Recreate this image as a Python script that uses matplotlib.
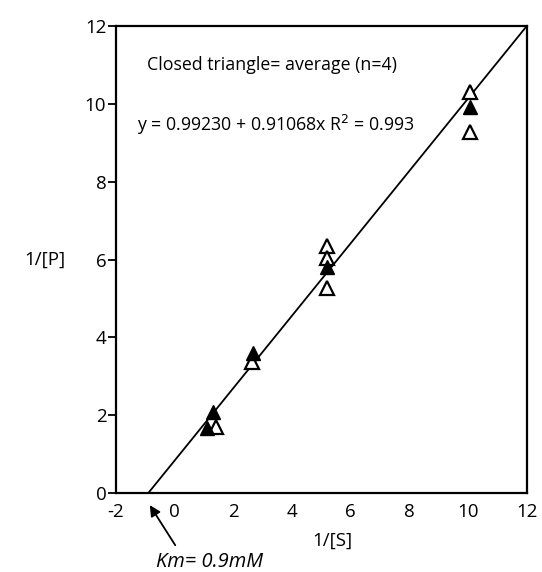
import matplotlib
matplotlib.use('Agg')
import matplotlib.pyplot as plt

plt.rcParams['font.family'] = ['Open Sans', 'DejaVu Sans']
plt.rcParams['axes.unicode_minus'] = False

# datos
x_ticks = [-2, 0, 2, 4, 6, 8, 10, 12]
y_ticks = [0, 2, 4, 6, 8, 10, 12]

open_x = [1.4, 2.62, 5.2, 5.2, 5.2, 10.05, 10.05]
open_y = [1.71, 3.37, 6.35, 6.05, 5.27, 10.31, 9.27]

closed_x = [1.1, 1.3, 2.68, 5.2, 10.05]
closed_y = [1.68, 2.07, 3.61, 5.81, 9.93]

fit_x = [-0.9, 12.0]
fit_y = [0.0, 12.0]

fig = plt.figure(figsize=(5.42, 5.72), dpi=100)
ax = fig.add_axes([0.214, 0.138, 0.758, 0.8166])

ax.plot(fit_x, fit_y, color='black', lw=1.3, zorder=2)
ax.plot(open_x, open_y, linestyle='none', marker='^', markersize=10.5,
        markerfacecolor='white', markeredgecolor='black', markeredgewidth=1.6, zorder=3)
ax.plot(closed_x, closed_y, linestyle='none', marker='^', markersize=10.5,
        markerfacecolor='black', markeredgecolor='black', zorder=4)

ax.set_xlim(-2, 12)
ax.set_ylim(0, 12)
ax.set_xticks(x_ticks)
ax.set_yticks(y_ticks)
ax.tick_params(axis='x', length=0, pad=7, labelsize=13.5)
ax.tick_params(axis='y', direction='out', length=6, width=1.3, pad=1, labelsize=13.5)
for s in ax.spines.values():
    s.set_linewidth(1.6)

ax.text(-0.95, 11.0, 'Closed triangle= average (n=4)', fontsize=12.8, va='center')
ax.text(-1.3, 9.45, 'y = 0.99230 + 0.91068x R$^2$ = 0.993', fontsize=12.8, va='center')

fig.text(0.613, 0.055, '1/[S]', fontsize=13.5, ha='center', va='center')
fig.text(0.083, 0.546, '1/[P]', fontsize=13.5, ha='center', va='center')

ax.annotate('', xy=(-0.9, -0.25), xytext=(0.07, -1.4), annotation_clip=False,
            arrowprops=dict(arrowstyle='-|>', color='black', lw=1.3, mutation_scale=16))
fig.text(0.387, 0.018, 'Km= 0.9mM', fontsize=14.5, style='italic', ha='center', va='center')

fig.savefig('out.png', dpi=100)
